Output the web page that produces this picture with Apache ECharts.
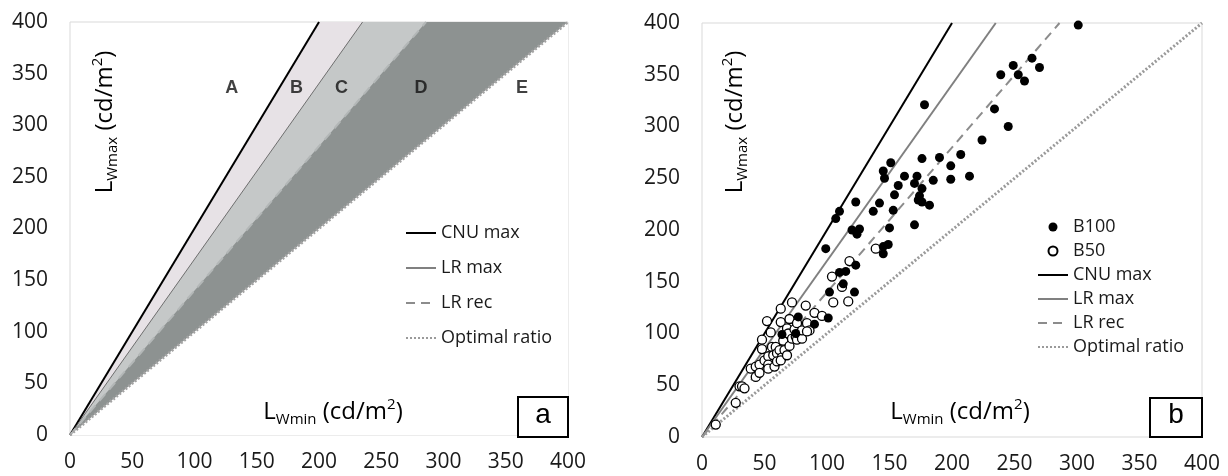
<!DOCTYPE html>
<html>
<head>
<meta charset="utf-8">
<script src="https://cdn.jsdelivr.net/npm/echarts@6.0.0/dist/echarts.min.js"></script>
<style>
html, body {margin: 0; padding: 0; background: #fff}
#chart {width: 1228px; height: 476px}
</style>
</head>
<body>
<div id="chart"></div>
<script>
// luminance limits, both panels use the same scale
const axisMin = 0
const axisMax = 400
const axisStep = 50

// reference lines as [Lwmin, Lwmax] end points
const cnuMax = [[0, 0], [200, 400]]
const lrMax = [[0, 0], [235, 400]]
const lrRec = [[0, 0], [286, 400]]
const optimal = [[0, 0], [400, 400]]

// zone letters of panel a
const zoneNames = ['A', 'B', 'C', 'D', 'E']
const zoneX = [130, 182, 218, 282, 363]
const zoneY = [336, 336, 336, 336, 336]

// measured pairs [Lwmin, Lwmax]
const b100 = [[301,398],[264,366],[270,357],[249,359],[239,350],[253,350],[258,344],[234,317],[245,300],[224,287],
    [178,321],[207,273],[199,262],[190,270],[176,269],[214,252],[199,249],[185,248],[172,252],[162,252],
    [170,245],[176,240],[173,229],[176,227],[174,233],[182,224],[170,205],[157,243],[154,234],[142,226],
    [153,219],[137,218],[150,202],[145,257],[151,265],[146,250],[123,227],[110,218],[107,211],[120,200],
    [126,201],[124,196],[99,182],[149,186],[145,184],[145,177],[123,166],[115,160],[110,159],[113,148],
    [102,140],[122,140],[101,115],[90,109],[77,116],[75,100],[64,99]]
const b50 = [[11,12],[27,33],[30,49],[32,49],[34,47],[39,66],[43,58],[43,68],[46,70],[46,62],
    [48,85],[48,94],[52,112],[55,101],[50,74],[53,78],[53,70],[53,66],[56,87],[57,79],
    [58,68],[59,87],[60,81],[60,73],[62,84],[63,124],[63,111],[65,93],[64,77],[63,74],
    [66,84],[68,105],[69,100],[68,79],[70,114],[70,88],[72,130],[72,95],[74,104],[75,97],
    [76,110],[76,94],[78,100],[80,95],[80,103],[83,127],[84,110],[86,103],[84,102],[90,120],
    [96,117],[104,155],[105,130],[112,145],[117,131],[118,170],[139,182]]

const topRight = [axisMax, axisMax]
const font = 'Open Sans'
const ink = '#1a1a1a'

function xAxis(i) {
    return {
        gridIndex: i, type: 'value', min: axisMin, max: axisMax, interval: axisStep,
        axisLine: {show: false}, axisTick: {show: false}, splitLine: {show: false},
        axisLabel: {fontSize: 21, color: ink, fontFamily: font, margin: 17}
    }
}
function yAxis(i) {
    return {
        gridIndex: i, type: 'value', min: axisMin, max: axisMax, interval: axisStep,
        axisLine: {show: false}, axisTick: {show: false}, splitLine: {show: false},
        axisLabel: {fontSize: 21, color: ink, fontFamily: font, margin: 22}
    }
}

function line(name, data, i, color, width, type) {
    return {
        name: name, type: 'line', data: data, xAxisIndex: i, yAxisIndex: i,
        symbol: 'none', silent: true, z: 4,
        // transparent item colour keeps the legend icon a plain line
        itemStyle: {color: 'transparent'},
        lineStyle: {color: color, width: width, type: type, cap: 'butt'}
    }
}
function zone(data, i, color) {
    return {
        name: 'zone', type: 'line', data: data, xAxisIndex: i, yAxisIndex: i,
        symbol: 'none', silent: true, z: 2,
        lineStyle: {width: 0}, areaStyle: {color: color, opacity: 1}
    }
}

const rich = {
    m: {fontSize: 24, lineHeight: 30, verticalAlign: 'middle', fontFamily: font, color: ink},
    s: {fontSize: 15, lineHeight: 15, verticalAlign: 'bottom', fontFamily: font, color: ink},
    p: {fontSize: 15, lineHeight: 15, verticalAlign: 'top', fontFamily: font, color: ink}
}
const yTitle = '{m|L}{s|Wmax}{m| (cd/m}{p|2}{m|)}'
const xTitle = '{m|L}{s|Wmin}{m| (cd/m}{p|2}{m|)}'

function title(text, x, y, rot) {
    return {
        type: 'text', x: x, y: y, rotation: rot, z: 10,
        style: {text: text, rich: rich, align: 'center', verticalAlign: 'middle',
            textAlign: 'center', textVerticalAlign: 'middle'}
    }
}
function tag(letter, x, y, w, h) {
    return [
        {type: 'rect', shape: {x: x, y: y, width: w, height: h}, z: 10,
            style: {fill: '#fff', stroke: '#000', lineWidth: 2}},
        {type: 'text', x: x + w / 2, y: y + h / 2 - 2, z: 11,
            style: {text: letter, fontSize: 28, fontFamily: 'Liberation Sans', fill: '#000',
                align: 'center', verticalAlign: 'middle', textAlign: 'center', textVerticalAlign: 'middle'}}
    ]
}

const legendText = {fontSize: 18, lineHeight: 20, fontFamily: font, color: ink}

const option = {
    backgroundColor: '#fff',
    animation: false,
    grid: [
        {left: 70, top: 22, width: 498, height: 413, show: true, borderColor: '#d9d9d9', borderWidth: 1},
        {left: 702, top: 23, width: 500, height: 414, show: true, borderColor: '#d9d9d9', borderWidth: 1}
    ],
    xAxis: [xAxis(0), xAxis(1)],
    yAxis: [yAxis(0), yAxis(1)],
    legend: [
        {orient: 'vertical', left: 400, top: 218, itemWidth: 30, itemHeight: 14, itemGap: 15,
            textStyle: legendText, selectedMode: false,
            data: ['CNU max', 'LR max', 'LR rec', 'Optimal ratio']},
        {orient: 'vertical', left: 1032, top: 212, itemWidth: 30, itemHeight: 9, itemGap: 4,
            textStyle: legendText, selectedMode: false,
            data: ['B100', 'B50', 'CNU max', 'LR max', 'LR rec', 'Optimal ratio']}
    ],
    series: [
        // panel b
        line('CNU max', cnuMax, 1, '#000', 2, 'solid'),
        line('LR max', lrMax, 1, '#808080', 2, 'solid'),
        line('LR rec', lrRec, 1, '#8c8c8c', 2, [9, 6]),
        line('Optimal ratio', optimal, 1, '#9a9a9a', 3, [2, 2]),
        {
            name: 'B50', type: 'scatter', data: b50, xAxisIndex: 1, yAxisIndex: 1, z: 5,
            symbol: 'circle', symbolSize: 9,
            itemStyle: {color: '#fff', borderColor: '#000', borderWidth: 1.3, opacity: 1}
        },
        {
            name: 'B100', type: 'scatter', data: b100, xAxisIndex: 1, yAxisIndex: 1, z: 6,
            symbol: 'circle', symbolSize: 9,
            itemStyle: {color: '#000', opacity: 1}
        },
        // panel a: zones painted from the left line outwards
        zone(cnuMax.concat([topRight]), 0, '#e7e2e6'),
        zone(lrMax.concat([topRight]), 0, '#c5c8c8'),
        zone(lrRec.concat([topRight]), 0, '#8d9291'),
        zone(optimal, 0, '#ffffff'),
        line('CNU max', cnuMax, 0, '#000', 2, 'solid'),
        line('LR max', lrMax, 0, '#6e6e6e', 1, 'solid'),
        line('LR rec', lrRec, 0, '#b3b7b7', 2, [9, 6]),
        line('Optimal ratio', optimal, 0, '#a3a3a3', 3, [2, 2]),
        {
            name: 'zones', type: 'scatter', xAxisIndex: 0, yAxisIndex: 0, silent: true, z: 6,
            data: zoneNames.map((n, k) => [zoneX[k], zoneY[k], n]),
            symbol: 'circle', symbolSize: 1, itemStyle: {color: 'transparent'},
            label: {show: true, position: 'inside', formatter: p => p.value[2],
                fontSize: 18, fontWeight: 'bold', fontFamily: 'Liberation Sans', color: '#111'}
        }
    ],
    graphic: [
        title(yTitle, 105, 122, Math.PI / 2),
        title(xTitle, 333, 412, 0),
        title(yTitle, 735, 122, Math.PI / 2),
        title(xTitle, 960, 412, 0)
    ].concat(tag('a', 518, 397, 50, 40), tag('b', 1150, 398, 52, 39))
}

const myChart = echarts.init(document.getElementById('chart'))
myChart.setOption(option)
</script>
</body>
</html>
